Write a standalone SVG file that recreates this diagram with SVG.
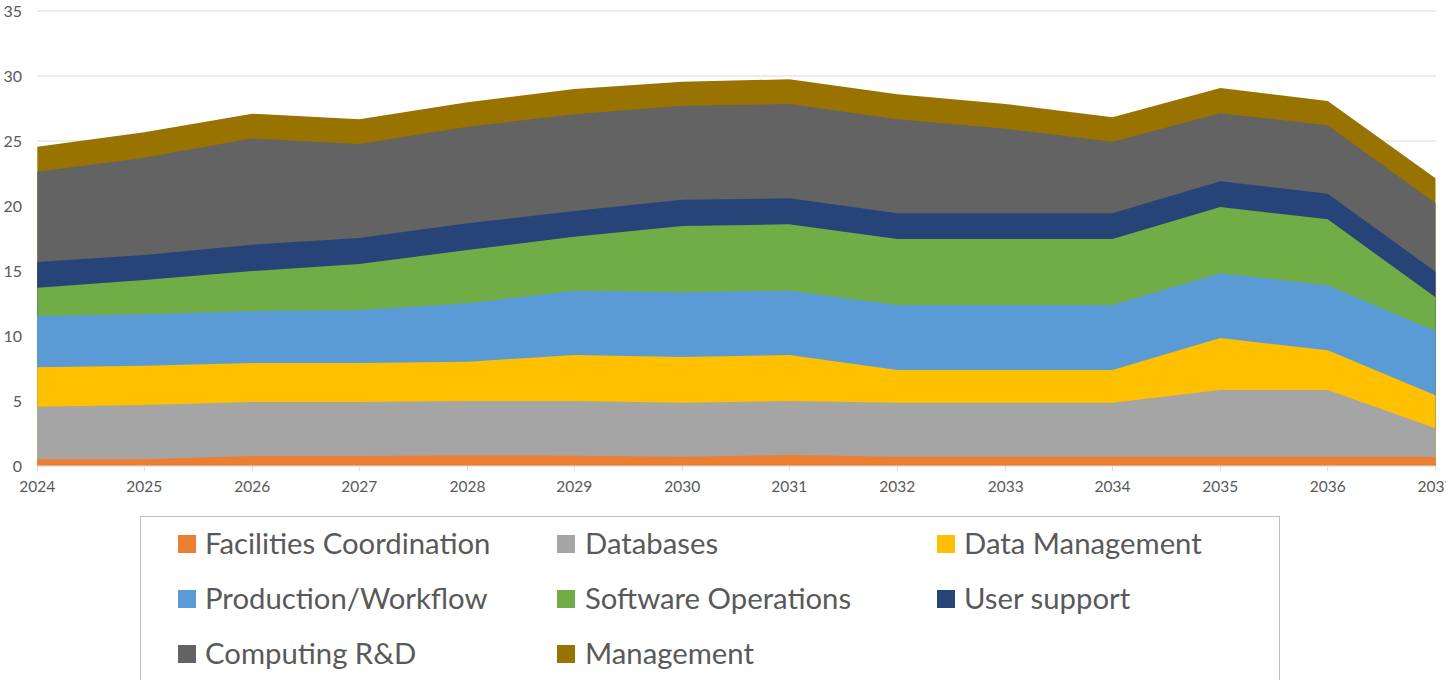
<svg xmlns="http://www.w3.org/2000/svg" width="1446" height="680" viewBox="0 0 1446 680">
  <style>
    .grid { stroke: #d9d9d9; stroke-width: 1; }
    .axis { stroke: #d9d9d9; stroke-width: 1; fill: none; }
    .ytick { font-family: Lato, "Open Sans", sans-serif; font-size: 16px; fill: #595959; text-anchor: end; }
    .xtick { font-family: Lato, "Open Sans", sans-serif; font-size: 15.5px; fill: #595959; text-anchor: middle; }
    .legtext { font-family: Lato, "Open Sans", sans-serif; font-size: 29.3px; fill: #595959; }
    .legbox { fill: #ffffff; stroke: #bfbfbf; stroke-width: 1; }
  </style>
  <rect width="1446" height="680" fill="#ffffff"/>

  <!-- horizontal gridlines, 5 units = 65 px, zero at y=466 -->
  <g id="gridlines">
    <line class="grid" x1="37" y1="11" x2="1436" y2="11"/>
    <line class="grid" x1="37" y1="76" x2="1436" y2="76"/>
    <line class="grid" x1="37" y1="141" x2="1436" y2="141"/>
    <line class="grid" x1="37" y1="206" x2="1436" y2="206"/>
    <line class="grid" x1="37" y1="271" x2="1436" y2="271"/>
    <line class="grid" x1="37" y1="336" x2="1436" y2="336"/>
    <line class="grid" x1="37" y1="401" x2="1436" y2="401"/>
  </g>

  <!-- stacked areas: each drawn from its cumulative top down to the baseline, top-most first -->
  <g id="series">
    <g id="management">
      <path fill="#997300" d="M37.3,146.7 L144.3,132.3 L252.3,113.7 L359.3,119.3 L467.5,102.3 L574.3,89 L682.3,81.7 L789.3,79.3 L897.3,94.3 L1005.7,104 L1112.5,117.3 L1220.3,88 L1327.7,101 L1435.5,178.3 L1435.5,466 L37.3,466 Z"/>
    </g>
    <g id="computing-rd">
      <path fill="#636363" d="M37.3,171.7 L144.3,157.7 L252.3,138.3 L359.3,144 L467.5,126.7 L574.3,114.3 L682.3,105.7 L789.3,104 L897.3,119.3 L1005.7,128.7 L1112.5,141.7 L1220.3,113.3 L1327.7,125.3 L1435.5,203.3 L1435.5,466 L37.3,466 Z"/>
    </g>
    <g id="user-support">
      <path fill="#264478" d="M37.3,262 L144.3,255 L252.3,244.7 L359.3,238 L467.5,223.3 L574.3,211 L682.3,199.7 L789.3,198.3 L897.3,213.3 L1005.7,213.3 L1112.5,213.3 L1220.3,181.3 L1327.7,193.7 L1435.5,271.7 L1435.5,466 L37.3,466 Z"/>
    </g>
    <g id="software-operations">
      <path fill="#70ad47" d="M37.3,287.7 L144.3,280 L252.3,271 L359.3,264 L467.5,250 L574.3,236.7 L682.3,226 L789.3,224.3 L897.3,239 L1005.7,239 L1112.5,239 L1220.3,207 L1327.7,219.3 L1435.5,297.3 L1435.5,466 L37.3,466 Z"/>
    </g>
    <g id="production-workflow">
      <path fill="#5b9bd5" d="M37.3,315.7 L144.3,314.3 L252.3,311 L359.3,310 L467.5,303.3 L574.3,290.7 L682.3,292.3 L789.3,290.7 L897.3,305 L1005.7,305 L1112.5,305 L1220.3,273.3 L1327.7,285.3 L1435.5,331 L1435.5,466 L37.3,466 Z"/>
    </g>
    <g id="data-management">
      <path fill="#ffc000" d="M37.3,367.3 L144.3,365.7 L252.3,363 L359.3,363 L467.5,361.7 L574.3,355 L682.3,357 L789.3,355 L897.3,370 L1005.7,370 L1112.5,370 L1220.3,338 L1327.7,350.3 L1435.5,395.3 L1435.5,466 L37.3,466 Z"/>
    </g>
    <g id="databases">
      <path fill="#a5a5a5" d="M37.3,406.7 L144.3,405 L252.3,402 L359.3,402 L467.5,401 L574.3,401 L682.3,402.7 L789.3,401 L897.3,402.7 L1005.7,402.7 L1112.5,402.7 L1220.3,390 L1327.7,390 L1435.5,428.3 L1435.5,466 L37.3,466 Z"/>
    </g>
    <g id="facilities-coordination">
      <path fill="#ed7d31" d="M37.3,459.3 L144.3,459.3 L252.3,456 L359.3,456 L467.5,455.5 L574.3,455.7 L682.3,456.7 L789.3,455 L897.3,456.7 L1005.7,456.7 L1112.5,456.7 L1220.3,456.7 L1327.7,456.7 L1435.5,456.7 L1435.5,466 L37.3,466 Z"/>
    </g>
  </g>

  <!-- category axis with tick marks -->
  <g id="x-axis">
    <path class="axis" d="M37.3,466 H1435.5 M37.3,466 v5 M144.3,466 v5 M252.3,466 v5 M359.3,466 v5 M467.5,466 v5 M574.3,466 v5 M682.3,466 v5 M789.3,466 v5 M897.3,466 v5 M1005.7,466 v5 M1112.5,466 v5 M1220.3,466 v5 M1327.7,466 v5 M1435.5,466 v5"/>
    <text class="xtick" x="37.3" y="492">2024</text>
    <text class="xtick" x="144.3" y="492">2025</text>
    <text class="xtick" x="252.3" y="492">2026</text>
    <text class="xtick" x="359.3" y="492">2027</text>
    <text class="xtick" x="467.5" y="492">2028</text>
    <text class="xtick" x="574.3" y="492">2029</text>
    <text class="xtick" x="682.3" y="492">2030</text>
    <text class="xtick" x="789.3" y="492">2031</text>
    <text class="xtick" x="897.3" y="492">2032</text>
    <text class="xtick" x="1005.7" y="492">2033</text>
    <text class="xtick" x="1112.5" y="492">2034</text>
    <text class="xtick" x="1220.3" y="492">2035</text>
    <text class="xtick" x="1327.7" y="492">2036</text>
    <text class="xtick" x="1435.5" y="492">2037</text>
  </g>

  <g id="y-axis">
    <text class="ytick" x="22" y="17">35</text>
    <text class="ytick" x="22" y="82">30</text>
    <text class="ytick" x="22" y="147">25</text>
    <text class="ytick" x="22" y="212">20</text>
    <text class="ytick" x="22" y="277">15</text>
    <text class="ytick" x="22" y="342">10</text>
    <text class="ytick" x="22" y="407">5</text>
    <text class="ytick" x="22" y="472">0</text>
  </g>

  <g id="legend">
    <rect class="legbox" x="140.5" y="516.5" width="1139" height="200"/>
    <rect x="178" y="535" width="18" height="18" fill="#ed7d31"/>
    <text class="legtext" x="205" y="554">Facilities Coordination</text>
    <rect x="557" y="535" width="18" height="18" fill="#a5a5a5"/>
    <text class="legtext" x="585" y="554">Databases</text>
    <rect x="937" y="535" width="18" height="18" fill="#ffc000"/>
    <text class="legtext" x="964" y="554">Data Management</text>
    <rect x="178" y="590" width="18" height="18" fill="#5b9bd5"/>
    <text class="legtext" x="205" y="609">Production/Workflow</text>
    <rect x="557" y="590" width="18" height="18" fill="#70ad47"/>
    <text class="legtext" x="585" y="609">Software Operations</text>
    <rect x="937" y="590" width="18" height="18" fill="#264478"/>
    <text class="legtext" x="964" y="609">User support</text>
    <rect x="178" y="645" width="18" height="18" fill="#636363"/>
    <text class="legtext" x="205" y="664">Computing R&amp;D</text>
    <rect x="557" y="645" width="18" height="18" fill="#997300"/>
    <text class="legtext" x="585" y="664">Management</text>
  </g>
</svg>
